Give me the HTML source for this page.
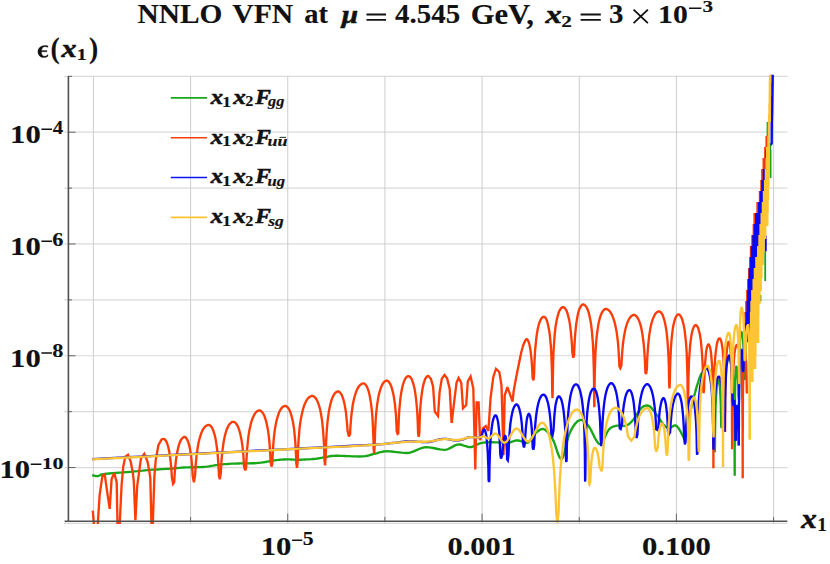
<!DOCTYPE html><html><head><meta charset="utf-8"><style>html,body{margin:0;padding:0;background:#fff}svg text{font-family:"Liberation Serif",serif;font-weight:bold;fill:#111}</style></head><body><svg width="830" height="564" viewBox="0 0 830 564" style="display:block">
<rect width="830" height="564" fill="#fff"/>
<path d="M64.3 76.30H787.3M64.3 132.19H787.3M64.3 188.08H787.3M64.3 243.97H787.3M64.3 299.86H787.3M64.3 355.75H787.3M64.3 411.64H787.3M64.3 467.53H787.3M64.3 523.42H787.3" stroke="#d9d9d9" stroke-width="1.2" fill="none"/>
<path d="M93.40 76.3V523.8M190.57 76.3V523.8M287.74 76.3V523.8M384.91 76.3V523.8M482.08 76.3V523.8M579.25 76.3V523.8M676.42 76.3V523.8M773.59 76.3V523.8" stroke="#c8c8c8" stroke-width="0.9" fill="none"/>
<defs><clipPath id="cp"><rect x="68" y="74.8" width="722" height="449.2"/></clipPath></defs>
<g clip-path="url(#cp)" fill="none" stroke-width="2.35" stroke-linejoin="miter" stroke-miterlimit="3" stroke-linecap="butt">
<path d="M92.2 475.2L92.9 475.3L93.6 475.5L94.3 475.7L95.0 475.8L95.6 476.0L96.3 476.1L97.0 476.1L97.7 476.1L98.3 476.0L98.8 475.8L99.4 475.5L100.0 475.2L100.5 474.9L101.1 474.6L101.6 474.4L102.2 474.3L105.7 473.9L109.2 473.5L112.6 473.2L116.1 472.9L119.6 472.6L123.0 472.4L126.5 472.1L130.0 471.8L132.5 471.6L135.0 471.3L137.5 471.1L140.0 470.8L142.5 470.6L145.0 470.3L147.5 470.1L150.0 469.9L152.3 469.7L154.5 469.6L156.8 469.5L159.1 469.3L161.3 469.2L163.6 469.1L165.8 468.9L168.1 468.8L170.4 468.6L172.6 468.5L174.9 468.3L177.1 468.1L179.4 467.9L181.7 467.7L183.9 467.5L186.2 467.4L188.5 467.3L190.7 467.2L193.0 467.2L195.2 467.2L197.5 467.1L199.8 467.1L202.0 467.0L204.3 466.8L206.6 466.6L208.8 466.3L211.1 465.9L213.4 465.6L215.6 465.2L217.9 464.9L220.1 464.5L222.4 464.3L224.7 464.1L226.9 464.0L229.2 463.8L231.4 463.7L233.7 463.6L236.0 463.6L238.2 463.5L240.5 463.4L242.8 463.3L245.0 463.3L247.3 463.3L249.6 463.3L251.8 463.2L254.1 463.2L256.3 463.1L258.6 462.9L260.9 462.7L263.1 462.3L265.4 462.0L267.6 461.6L269.9 461.2L272.1 460.8L274.4 460.4L276.6 460.1L278.0 459.9L279.3 459.8L280.7 459.7L282.1 459.6L283.4 459.5L284.8 459.5L286.1 459.4L287.5 459.4L288.8 459.4L290.1 459.4L291.4 459.5L292.8 459.6L294.1 459.6L295.4 459.7L296.7 459.7L298.0 459.7L300.2 459.7L302.4 459.6L304.6 459.5L306.8 459.4L308.9 459.3L311.1 459.2L313.3 459.0L315.5 458.8L317.8 458.5L320.0 458.1L322.3 457.7L324.6 457.2L326.8 456.8L329.1 456.4L331.3 456.0L333.6 455.8L335.9 455.7L338.1 455.7L340.4 455.8L342.6 455.9L344.9 456.0L347.2 456.1L349.4 456.2L351.7 456.3L353.4 456.3L355.0 456.4L356.7 456.4L358.4 456.5L360.0 456.5L361.7 456.4L363.3 456.3L365.0 456.2L366.1 456.0L367.2 455.8L368.4 455.5L369.5 455.2L370.6 454.8L371.8 454.5L372.9 454.2L374.0 453.9L375.6 453.5L377.2 453.1L378.8 452.6L380.4 452.2L381.9 451.8L383.5 451.5L385.1 451.3L386.7 451.2L389.2 451.3L391.7 451.5L394.2 451.8L396.6 452.1L399.1 452.4L401.6 452.7L404.1 452.9L406.6 453.0L409.1 452.8L411.6 452.1L414.1 451.2L416.6 450.1L419.0 449.0L421.5 448.1L424.0 447.4L426.5 447.2L428.8 447.3L431.0 447.6L433.3 448.0L435.6 448.5L437.8 449.0L440.1 449.4L442.3 449.7L444.6 449.8L446.4 449.6L448.2 449.0L450.0 448.1L451.9 447.1L453.7 446.1L455.5 445.2L457.3 444.6L459.1 444.4L460.5 444.5L461.8 444.8L463.1 445.3L464.5 445.8L465.9 446.2L467.2 446.7L468.5 447.0L469.9 447.1L471.3 447.0L472.6 446.6L474.0 446.0L475.4 445.4L476.7 444.7L478.1 444.1L479.4 443.5L480.8 443.1L482.2 442.8L483.5 442.6L484.9 442.5L486.2 442.4L487.6 442.3L489.0 442.2L490.3 442.2L491.7 442.2L493.6 442.2L495.6 442.3L497.5 442.4L499.4 442.5L501.4 442.7L503.3 442.8L505.3 442.9L507.2 442.9L508.4 442.8L509.7 442.5L510.9 442.1L512.2 441.6L513.5 441.2L514.7 440.8L516.0 440.5L517.2 440.4L518.4 440.5L519.7 440.8L520.9 441.2L522.2 441.6L523.4 442.1L524.6 442.5L525.9 442.8L527.1 442.9L528.0 442.6L528.9 441.9L529.8 440.8L530.8 439.5L531.7 438.1L532.6 436.7L533.5 435.4L534.4 434.4L535.4 433.5L536.4 432.5L537.4 431.6L538.5 430.8L539.5 430.1L540.5 429.5L541.5 429.1L542.5 429.0L543.8 429.2L545.0 429.8L546.2 430.7L547.5 432.0L548.8 433.4L550.0 435.1L551.2 437.0L552.5 438.9L553.6 441.1L554.8 444.1L555.9 447.4L557.0 450.8L558.1 454.0L559.2 456.7L560.4 458.5L561.5 459.2L562.4 458.4L563.3 456.3L564.2 453.3L565.1 449.5L566.1 445.6L567.0 441.6L567.9 438.1L568.8 435.3L569.7 433.1L570.6 431.2L571.5 429.4L572.4 427.8L573.3 426.4L574.2 425.0L575.1 423.8L576.0 422.7L576.7 422.0L577.4 421.4L578.0 420.9L578.7 420.5L579.4 420.3L580.0 420.1L580.7 420.0L581.4 420.0L582.3 420.1L583.2 420.5L584.1 421.2L585.0 422.0L586.0 422.9L586.9 424.0L587.8 425.1L588.7 426.3L590.2 428.5L591.6 431.2L593.1 434.2L594.5 437.2L596.0 440.0L597.5 442.3L598.9 443.8L600.4 444.4L601.4 443.9L602.5 442.6L603.5 440.7L604.5 438.4L605.5 435.9L606.5 433.6L607.6 431.5L608.6 429.9L609.5 428.9L610.4 428.1L611.3 427.5L612.2 427.0L613.1 426.7L614.0 426.4L614.9 426.1L615.8 425.9L617.2 425.7L618.5 425.6L619.9 425.7L621.2 425.8L622.6 425.9L624.0 425.9L625.3 425.8L626.7 425.4L627.6 425.0L628.5 424.4L629.4 423.7L630.3 422.9L631.2 422.0L632.1 421.1L633.0 420.1L633.9 419.0L634.8 417.8L635.7 416.4L636.6 415.0L637.5 413.4L638.4 411.9L639.3 410.5L640.2 409.2L641.1 408.2L641.9 407.5L642.7 406.9L643.5 406.4L644.2 406.1L645.0 405.8L645.8 405.6L646.6 405.5L647.4 405.5L648.6 405.8L649.9 406.5L651.1 407.6L652.3 409.0L653.5 410.6L654.8 412.2L656.0 413.9L657.2 415.4L658.0 416.4L658.8 417.5L659.6 418.8L660.4 420.0L661.1 421.3L661.9 422.5L662.7 423.6L663.5 424.5L664.2 425.2L664.9 425.9L665.5 426.5L666.2 427.0L666.9 427.5L667.5 427.8L668.2 428.0L668.9 428.1L669.7 428.0L670.5 427.7L671.3 427.2L672.1 426.8L672.9 426.3L673.7 425.8L674.5 425.5L675.3 425.4L676.0 425.6L676.6 426.0L677.3 426.7L678.0 427.5L678.7 428.5L679.4 429.6L680.0 430.6L680.7 431.7L684.5 439.5L688.9 417.2L694.3 395.5L695.0 393.0L695.6 390.6L696.3 388.1L697.0 385.8L697.7 383.5L698.4 381.4L699.0 379.3L699.7 377.4L700.2 376.3L700.6 375.3L701.0 374.4L701.5 373.6L702.0 372.9L702.4 372.2L702.8 371.6L703.3 371.0L703.8 370.4L704.2 369.7L704.7 369.2L705.1 368.6L705.6 368.2L706.1 367.8L706.5 367.6L707.0 367.5L707.3 367.5L707.8 367.8L708.4 368.5L709.0 369.6L709.7 371.1L710.3 373.2L710.9 375.9L711.5 379.4L712.0 382.7L712.5 386.7L712.8 390.9L713.2 396.1L713.6 401.3L713.8 406.3L714.0 412.6L714.2 418.0L714.3 425.0L714.4 432.0L714.6 441.8L714.6 451.7L714.8 452.0L715.0 444.5L715.0 437.5L715.1 430.5L715.2 425.1L715.3 418.8L715.4 413.8L715.5 408.6L715.7 403.4L715.9 399.2L716.1 395.2L716.4 391.9L716.6 388.4L716.9 385.7L717.2 383.6L717.5 382.1L717.8 381.0L718.1 380.3L718.4 380.0L718.5 380.0L718.6 380.0L718.8 380.3L719.0 381.0L719.3 382.1L719.5 383.6L719.8 385.7L720.0 388.4L720.2 391.9L720.4 395.2L720.6 399.2L720.8 403.4L720.9 408.6L721.0 413.8L721.1 418.8L721.2 425.1L721.5 428.2L721.8 423.5L722.0 416.5L722.1 409.5L722.2 404.1L722.5 397.8L722.7 392.8L723.0 387.6L723.4 382.4L723.8 378.2L724.2 374.2L724.6 370.9L725.2 367.4L725.9 364.7L726.5 362.6L727.0 361.1L727.6 360.0L728.2 359.3L728.7 359.0L729.0 359.0L729.2 359.0L729.6 359.3L730.0 360.0L730.5 361.1L730.9 362.6L731.4 364.7L731.9 367.4L732.3 370.9L732.6 374.2L733.0 378.2L733.3 382.4L733.6 387.6L733.8 392.8L734.0 397.8L734.1 404.1L734.2 409.5L734.4 416.5L734.4 423.5L734.5 433.3L734.6 443.2L734.6 455.6L734.7 472.4L734.7 475.8L734.7 463.2L734.7 450.8L734.8 440.9L734.8 431.1L734.8 424.1L734.8 417.1L734.9 411.7L734.9 405.4L735.0 400.4L735.0 395.2L735.1 390.0L735.2 385.8L735.3 381.8L735.4 378.5L735.5 375.0L735.7 372.3L735.8 370.2L736.0 368.7L736.1 367.6L736.2 366.9L736.3 366.6L736.4 366.6L736.5 366.6L736.7 366.9L736.9 367.6L737.1 368.7L737.3 370.2L737.5 372.3L737.7 375.0L737.9 378.5L738.1 381.8L738.2 385.8L738.4 390.0L738.5 395.2L739.0 400.0L739.1 396.5L739.1 389.5L739.2 382.5L739.2 377.1L739.3 370.8L739.4 365.8L739.5 360.6L739.6 355.4L739.7 351.2L739.8 347.2L740.0 343.9L740.1 340.4L740.3 337.7L740.5 335.6L740.7 334.1L740.9 333.0L741.1 332.3L741.2 332.0L741.3 332.0L741.4 332.0L741.7 332.3L742.0 333.0L742.3 334.1L742.6 335.6L742.9 337.7L743.1 340.4L743.4 343.9L743.7 347.2L743.9 351.2L744.1 355.4L744.3 360.6L744.4 365.8L744.5 370.8L744.6 377.1L745.0 380.0L745.2 377.5L745.2 370.5L745.3 365.1L745.4 358.8L745.5 353.8L745.6 348.6L745.8 343.4L745.9 339.2L746.1 335.2L746.3 331.9L746.5 328.4L746.7 325.7L747.0 323.6L747.2 322.1L747.5 321.0L747.7 320.3L747.9 320.0L748.0 320.0" stroke="#19a619"/>
<path d="M765.2 251V281M760.5 295V301.5M770.6 150V178M767.5 122V143M770.2 143V150M751.9 374V380" stroke="#19a619" stroke-width="1.8" fill="none"/>
<path d="M92.8 510.6L94.4 530.0L97.4 530.0L99.6 495.4L102.4 475.8L104.7 474.2L107.2 492.1L109.7 508.9L111.6 479.1L114.3 473.1L116.7 482.4L117.6 530.0L119.4 530.0L119.7 524.1L121.6 485.0L123.2 467.0L125.3 456.6L128.0 454.7L130.7 461.5L132.9 473.4L133.8 481.3L135.4 520.3L137.2 486.0L138.9 473.4L141.0 458.2L144.3 453.9L147.5 461.5L149.7 473.4L150.3 478.0L151.6 530.0L152.6 530.0L154.4 475.8L155.7 460.4L158.4 445.2L161.6 439.4L163.5 438.8L163.9 438.8L164.5 439.1L165.2 439.8L166.0 440.9L166.8 442.4L167.5 444.5L168.3 447.2L169.1 450.7L169.6 454.0L170.2 458.0L170.7 462.2L171.2 467.4L171.6 472.6L171.9 477.6L173.1 483.7L174.2 482.1L174.6 475.8L174.9 470.8L175.4 465.6L175.9 460.4L176.5 456.2L177.2 452.2L177.9 448.9L178.8 445.4L179.7 442.7L180.6 440.6L181.5 439.1L182.4 438.0L183.4 437.3L184.0 437.0L184.5 437.0L184.9 437.0L185.4 437.3L186.2 438.0L186.9 439.1L187.7 440.6L188.4 442.7L189.2 445.4L190.0 448.9L190.5 452.2L191.1 456.2L191.6 460.4L192.0 465.6L192.4 470.8L192.7 475.8L193.9 482.3L195.1 475.4L195.4 470.0L195.8 463.7L196.3 458.7L196.8 453.5L197.6 448.3L198.3 444.1L199.2 440.1L200.1 436.8L201.2 433.3L202.4 430.6L203.6 428.5L204.8 427.0L206.0 425.9L207.1 425.2L208.0 424.9L208.6 424.9L209.0 424.9L209.7 425.2L210.6 425.9L211.5 427.0L212.4 428.5L213.3 430.6L214.2 433.3L215.1 436.8L215.8 440.1L216.4 444.1L217.0 448.3L217.6 453.5L218.0 458.7L218.3 463.7L218.7 470.0L218.9 475.4L219.8 479.2L220.9 472.3L221.1 466.9L221.5 460.6L221.9 455.6L222.5 450.4L223.2 445.2L223.8 441.0L224.6 437.0L225.4 433.7L226.5 430.2L227.6 427.5L228.6 425.4L229.7 423.9L230.8 422.8L231.9 422.1L232.7 421.8L233.2 421.8L233.7 421.8L234.4 422.1L235.4 422.8L236.3 423.9L237.3 425.4L238.3 427.5L239.2 430.2L240.2 433.7L240.9 437.0L241.7 441.0L242.3 445.2L242.9 450.4L243.4 455.6L243.7 460.6L244.1 466.9L245.3 470.5L246.1 468.0L246.4 461.0L246.7 455.6L247.1 449.3L247.6 444.3L248.1 439.1L248.8 433.9L249.5 429.7L250.4 425.7L251.2 422.4L252.3 418.9L253.5 416.2L254.6 414.1L255.7 412.6L256.9 411.5L258.0 410.8L258.8 410.5L259.4 410.5L259.9 410.5L260.6 410.8L261.6 411.5L262.5 412.6L263.5 414.1L264.5 416.2L265.4 418.9L266.4 422.4L267.1 425.7L267.9 429.7L268.5 433.9L269.1 439.1L269.6 444.3L269.9 449.3L270.3 455.6L270.5 461.0L271.5 466.6L272.3 463.5L272.6 456.5L272.9 451.1L273.3 444.8L273.7 439.8L274.2 434.6L274.9 429.4L275.6 425.2L276.4 421.2L277.3 417.9L278.4 414.4L279.4 411.7L280.5 409.6L281.6 408.1L282.7 407.0L283.8 406.3L284.7 406.0L285.2 406.0L285.7 406.0L286.4 406.3L287.3 407.0L288.3 408.1L289.2 409.6L290.2 411.7L291.1 414.4L292.0 417.9L292.8 421.2L293.5 425.2L294.1 429.4L294.6 434.6L295.1 439.8L295.5 444.8L295.8 451.1L296.1 456.5L296.3 463.5L297.0 467.9L297.7 460.5L297.9 453.5L298.2 446.5L298.5 441.1L299.0 434.8L299.4 429.8L300.0 424.6L300.8 419.4L301.6 415.2L302.5 411.2L303.4 407.9L304.6 404.4L305.8 401.7L307.0 399.6L308.2 398.1L309.5 397.0L310.7 396.3L311.6 396.0L312.2 396.0L312.7 396.0L313.5 396.3L314.5 397.0L315.6 398.1L316.6 399.6L317.6 401.7L318.6 404.4L319.7 407.9L320.5 411.2L321.2 415.2L321.9 419.4L322.5 424.6L323.0 429.8L323.4 434.8L323.8 441.1L324.1 446.5L324.3 453.5L324.5 460.5L325.1 465.3L325.7 456.0L325.9 449.0L326.1 442.0L326.4 436.6L326.8 430.3L327.2 425.3L327.7 420.1L328.4 414.9L329.0 410.7L329.8 406.7L330.6 403.4L331.6 399.9L332.6 397.2L333.7 395.1L334.7 393.6L335.8 392.5L336.8 391.8L337.6 391.5L338.1 391.5L338.5 391.5L339.2 391.8L340.0 392.5L340.9 393.6L341.8 395.1L342.6 397.2L343.5 399.9L344.4 403.4L345.0 406.7L345.7 410.7L346.2 414.9L346.7 420.1L347.2 425.3L347.5 430.3L348.9 436.4L350.1 433.9L350.3 428.5L350.8 422.2L351.2 417.2L351.8 412.0L352.5 406.8L353.2 402.6L354.1 398.6L355.0 395.3L356.1 391.8L357.3 389.1L358.5 387.0L359.6 385.5L360.8 384.4L361.9 383.7L362.8 383.4L363.4 383.4L363.8 383.4L364.5 383.7L365.3 384.4L366.2 385.5L367.0 387.0L367.9 389.1L368.8 391.8L369.6 395.3L370.2 398.6L370.9 402.6L371.4 406.8L372.0 412.0L372.4 417.2L372.7 422.2L373.0 428.5L373.2 433.9L373.5 440.9L373.6 447.9L374.1 453.4L374.7 445.2L374.9 438.2L375.1 431.2L375.4 425.8L375.7 419.5L376.1 414.5L376.6 409.3L377.2 404.1L377.9 399.9L378.6 395.9L379.4 392.6L380.4 389.1L381.4 386.4L382.4 384.3L383.4 382.8L384.4 381.7L385.4 381.0L386.2 380.7L386.7 380.7L387.1 380.7L387.8 381.0L388.7 381.7L389.5 382.8L390.4 384.3L391.3 386.4L392.1 389.1L393.0 392.6L393.7 395.9L394.3 399.9L394.9 404.1L395.4 409.3L395.9 414.5L396.2 419.5L396.5 425.8L396.7 431.2L397.6 434.0L398.2 433.6L398.5 426.6L398.7 421.2L399.0 414.9L399.3 409.9L399.8 404.7L400.3 399.5L400.8 395.3L401.5 391.3L402.1 388.0L403.0 384.5L403.9 381.8L404.7 379.7L405.6 378.2L406.5 377.1L407.3 376.4L408.0 376.1L408.4 376.1L408.8 376.1L409.4 376.4L410.3 377.1L411.1 378.2L411.9 379.7L412.7 381.8L413.5 384.5L414.4 388.0L415.0 391.3L415.6 395.3L416.1 399.5L416.6 404.7L417.1 409.9L417.4 414.9L417.7 421.2L417.9 426.6L418.1 433.6L418.7 436.8L419.3 433.3L419.5 426.3L419.7 420.9L419.9 414.6L420.2 409.6L420.6 404.4L421.1 399.2L421.6 395.0L422.2 391.0L422.7 387.7L423.5 384.2L424.3 381.5L425.0 379.4L425.8 377.9L426.6 376.8L427.3 376.1L427.9 375.8L428.3 375.8L431.0 379.1L433.1 386.7L434.8 411.6L438.0 416.0L439.6 392.1L441.8 378.6L444.5 375.0L447.2 378.6L449.7 388.9L451.6 423.0L454.3 400.8L456.5 382.9L458.6 378.0L461.3 382.9L463.0 408.4L466.2 405.1L467.8 381.3L470.6 376.4L473.3 388.3L475.3 469.5L476.6 402.4L478.6 402.4L480.1 440.3L483.1 428.2L485.8 426.0L488.4 431.0L490.6 397.5L493.3 376.9L496.0 368.8L499.3 372.0L501.5 385.6L503.5 455.0L504.7 395.4L507.4 387.2L512.6 401.6L513.6 391.3L516.3 376.8L516.5 375.6L516.8 374.5L517.0 373.3L517.2 372.2L517.4 371.1L517.6 370.0L517.9 368.9L518.1 367.8L518.6 365.6L519.0 363.3L519.5 361.1L519.9 358.8L520.4 356.6L520.8 354.5L521.2 352.5L521.7 350.6L522.0 349.3L522.4 348.1L522.7 347.0L523.0 346.0L523.4 345.0L523.7 344.1L524.1 343.3L524.4 342.5L524.7 341.9L525.0 341.3L525.2 340.7L525.5 340.2L525.8 339.8L526.0 339.5L526.3 339.3L526.6 339.2L526.9 339.2L527.3 339.5L527.8 340.2L528.4 341.3L528.9 342.8L529.5 344.9L530.0 347.6L530.6 351.1L531.0 354.4L531.4 358.4L531.8 362.6L532.1 367.8L532.4 373.0L532.6 378.0L533.5 380.3L534.1 374.3L534.3 367.3L534.5 361.9L534.8 355.6L535.1 350.6L535.6 345.4L536.1 340.2L536.6 336.0L537.2 332.0L537.8 328.7L538.6 325.2L539.5 322.5L540.3 320.4L541.1 318.9L541.9 317.8L542.8 317.1L543.4 316.8L543.8 316.8L544.1 316.8L544.7 317.1L545.4 317.8L546.1 318.9L546.8 320.4L547.5 322.5L548.1 325.2L548.8 328.7L549.4 332.0L549.9 336.0L550.3 340.2L550.8 345.4L551.1 350.6L551.4 355.6L551.6 361.9L551.8 367.3L552.0 374.3L552.1 381.3L552.2 391.1L552.5 398.2L552.7 391.4L552.8 381.5L553.0 371.7L553.1 364.7L553.3 357.7L553.5 352.3L553.9 346.0L554.2 341.0L554.6 335.8L555.1 330.6L555.6 326.4L556.3 322.4L556.9 319.1L557.8 315.6L558.6 312.9L559.4 310.8L560.3 309.3L561.1 308.2L562.0 307.5L562.6 307.2L563.0 307.2L563.4 307.2L564.0 307.5L564.9 308.2L565.7 309.3L566.5 310.8L567.3 312.9L568.1 315.6L569.0 319.1L569.6 322.4L570.2 326.4L570.7 330.6L571.2 335.8L571.7 341.0L572.0 346.0L572.3 352.3L573.3 357.8L574.1 355.0L574.3 349.6L574.6 343.3L574.9 338.3L575.3 333.1L575.8 327.9L576.3 323.7L576.9 319.7L577.5 316.4L578.2 312.9L579.0 310.2L579.8 308.1L580.6 306.6L581.4 305.5L582.2 304.8L582.8 304.5L583.2 304.5L583.6 304.5L584.3 304.8L585.2 305.5L586.1 306.6L587.0 308.1L587.9 310.2L588.8 312.9L589.6 316.4L590.3 319.7L591.0 323.7L591.5 327.9L592.1 333.1L592.5 338.3L592.9 343.3L593.2 349.6L593.4 355.0L593.6 362.0L593.8 369.0L594.0 378.8L594.1 388.7L594.2 401.1L594.3 407.3L594.4 405.6L594.5 393.2L594.6 383.3L594.8 373.5L595.0 366.5L595.2 359.5L595.4 354.1L595.8 347.8L596.1 342.8L596.6 337.6L597.2 332.4L597.8 328.2L598.4 324.2L599.1 320.9L600.0 317.4L601.0 314.7L601.9 312.6L602.8 311.1L603.7 310.0L604.6 309.3L605.3 309.0L605.8 309.0L606.4 309.0L607.2 309.3L608.4 310.0L609.6 311.1L610.7 312.6L611.9 314.7L613.0 317.4L614.2 320.9L615.1 324.2L615.9 328.2L616.7 332.4L617.4 337.6L618.0 342.8L618.4 347.8L618.8 354.1L619.1 359.5L619.4 366.5L620.3 368.2L621.4 365.5L621.7 360.1L622.1 353.8L622.5 348.8L623.0 343.6L623.7 338.4L624.4 334.2L625.2 330.2L626.0 326.9L627.1 323.4L628.2 320.7L629.3 318.6L630.4 317.1L631.5 316.0L632.5 315.3L633.4 315.0L633.9 315.0L634.4 315.0L635.1 315.3L636.1 316.0L637.1 317.1L638.0 318.6L639.0 320.7L640.0 323.4L641.0 326.9L641.7 330.2L642.4 334.2L643.0 338.4L643.7 343.6L644.1 348.8L644.5 353.8L644.9 360.1L645.1 365.5L645.4 372.5L646.1 374.0L646.9 368.9L647.1 361.9L647.4 356.5L647.8 350.2L648.2 345.2L648.7 340.0L649.3 334.8L650.0 330.6L650.7 326.6L651.5 323.3L652.5 319.8L653.6 317.1L654.6 315.0L655.6 313.5L656.7 312.4L657.7 311.7L658.5 311.4L659.0 311.4L659.4 311.4L660.0 311.7L660.9 312.4L661.7 313.5L662.6 315.0L663.4 317.1L664.2 319.8L665.1 323.3L665.7 326.6L666.4 330.6L666.9 334.8L667.4 340.0L667.8 345.2L668.1 350.2L668.5 356.5L668.7 361.9L668.9 368.9L669.0 375.9L669.2 385.7L669.5 388.4L669.9 378.9L670.0 371.9L670.2 364.9L670.4 359.5L670.7 353.2L670.9 348.2L671.3 343.0L671.7 337.8L672.2 333.6L672.7 329.6L673.2 326.3L674.0 322.8L674.7 320.1L675.4 318.0L676.1 316.5L676.8 315.4L677.5 314.7L678.0 314.4L678.4 314.4L678.8 314.4L679.4 314.7L680.1 315.4L680.9 316.5L681.6 318.0L682.4 320.1L683.1 322.8L683.9 326.3L684.5 329.6L685.0 333.6L685.5 337.8L686.0 343.0L686.4 348.2L686.7 353.2L686.9 359.5L687.1 364.9L687.3 371.9L687.5 378.9L687.6 388.7L687.7 398.6L687.8 411.0L687.9 418.0L688.1 409.4L688.1 399.5L688.3 389.7L688.4 382.7L688.5 375.7L688.7 370.3L688.9 364.0L689.1 359.0L689.5 353.8L689.9 348.6L690.2 344.4L690.7 340.4L691.2 337.1L691.8 333.6L692.4 330.9L693.0 328.8L693.7 327.3L694.3 326.2L694.9 325.5L695.4 325.2L695.7 325.2L696.0 325.2L696.5 325.5L697.1 326.2L697.8 327.3L698.4 328.8L699.0 330.9L699.7 333.6L700.3 337.1L700.8 340.4L701.2 344.4L701.6 348.6L702.0 353.8L702.3 359.0L702.6 364.0L702.8 370.3L703.0 375.7L703.1 382.7L703.2 389.7L703.6 393.2L704.1 389.5L704.2 383.2L704.4 378.2L704.6 373.0L704.8 367.8L705.1 363.6L705.4 359.6L705.7 356.3L706.0 352.8L706.4 350.1L706.8 348.0L707.2 346.5L707.6 345.4L708.0 344.7L708.3 344.4L708.5 344.4L708.7 344.4L709.0 344.7L709.4 345.4L709.8 346.5L710.2 348.0L710.6 350.1L711.0 352.8L711.3 356.3L711.6 359.6L711.9 363.6L712.2 367.8L712.4 373.0L712.6 378.2L712.8 383.2L712.9 389.5L713.0 394.9L713.1 401.9L713.2 408.9L713.3 418.7L713.3 428.6L713.3 441.0L713.4 457.8L713.4 468.3L713.4 451.7L713.5 434.9L713.5 422.5L713.6 412.6L713.7 402.8L713.8 395.8L713.9 388.8L714.0 383.4L714.2 377.1L714.4 372.1L714.6 366.9L714.9 361.7L715.2 357.5L715.6 353.5L716.0 350.2L716.5 346.7L716.9 344.0L717.4 341.9L717.9 340.4L718.4 339.3L718.9 338.6L719.3 338.3L719.5 338.3L719.7 338.3L720.0 338.6L720.5 339.3L720.9 340.4L721.4 341.9L721.8 344.0L722.2 346.7L722.7 350.2L723.0 353.5L723.4 357.5L723.6 361.7L723.9 366.9L724.1 372.1L724.3 377.1L724.5 383.4L724.6 388.8L724.7 395.8L724.8 402.8L724.8 412.6L724.9 422.5L725.0 432.0L725.1 426.0L725.1 416.1L725.2 406.3L725.2 399.3L725.3 392.3L725.4 386.9L725.5 380.6L725.6 375.6L725.8 370.4L726.0 365.2L726.1 361.0L726.4 357.0L726.6 353.7L726.9 350.2L727.2 347.5L727.5 345.4L727.8 343.9L728.1 342.8L728.4 342.1L728.6 341.8L728.8 341.8L728.9 341.8L729.1 342.1L729.4 342.8L729.7 343.9L729.9 345.4L730.2 347.5L730.5 350.2L730.7 353.7L730.9 357.0L731.1 361.0L731.3 365.2L731.4 370.4L731.6 375.6L731.7 380.6L731.8 386.9L731.8 392.3L731.9 399.3L732.0 406.3L732.0 416.1L732.0 426.0L732.1 438.4L732.1 449.3L732.2 441.6L732.2 429.2L732.2 419.3L732.3 409.5L732.4 402.5L732.5 395.5L732.6 390.1L732.7 383.8L732.9 378.8L733.1 373.6L733.3 368.4L733.6 364.2L733.9 360.2L734.2 356.9L734.5 353.4L734.9 350.7L735.3 348.6L735.7 347.1L736.1 346.0L736.5 345.3L736.8 345.0L737.0 345.0L737.2 345.0L737.6 345.3L738.0 346.0L738.5 347.1L738.9 348.6L739.4 350.7L739.9 353.4L740.3 356.9L740.6 360.2L741.0 364.2L741.3 368.4L741.6 373.6L741.8 378.8L742.0 383.8L742.1 390.1L742.2 395.5L742.4 402.5L742.4 409.5L742.5 419.3L742.6 429.2L742.6 441.6L742.7 458.4L742.7 478.2L742.7 465.4L742.7 448.6L742.7 436.2L742.8 426.3L742.8 416.5L742.8 409.5L742.9 402.5L742.9 397.1L743.0 390.8L743.1 385.8L743.2 380.6L743.3 375.4L743.4 371.2L743.5 367.2L743.7 363.9L743.9 360.4L744.0 357.7L744.2 355.6L744.4 354.1L744.6 353.0L744.8 352.3L744.9 352.0L745.0 352.0L745.1 352.0L745.2 352.3L745.4 353.0L745.5 354.1L745.7 355.6L745.8 357.7L746.0 360.4L746.2 363.9L746.3 367.2L746.4 371.2L746.5 375.4L746.6 380.6L746.7 385.8L746.7 390.8L747.0 393.5" stroke="#fb3d08"/>
<path d="M743.6 345.0V334.0H743.7V323.0H744.3V312.0H745.1V301.0H746.1V290.0H747.1V279.0H748.0V268.0H749.1V257.0H749.8V246.0H751.2V235.0H752.6V224.0H753.4V213.0H756.3V202.0H758.8V191.0H760.2V180.0H761.1V169.0H762.5V158.0H764.1V147.0H765.4V136.0H766.8V135.0H767.0L768.5 135.0L768.8 150.0L768.8 164.0L768.2 178.0L767.8 193.0L767.4 207.0L767.1 221.0L765.3 225.0L763.5 239.0L762.8 253.0L761.1 268.0L760.6 282.0L759.3 293.0L758.2 305.0L758.1 331.0L755.6 333.0Z" fill="#fb3d08" stroke="none"/>
<path d="M92.2 459.1L110.1 458.1L127.9 457.2L145.8 456.3L163.6 455.4L181.4 454.5L199.3 453.6L217.2 452.7L235.0 451.8L251.2 450.9L267.5 450.1L283.8 449.3L300.0 448.5L316.2 447.7L332.5 446.9L348.8 446.0L365.0 445.2L366.9 445.1L368.8 445.0L370.6 444.9L372.5 444.8L374.4 444.7L376.2 444.6L378.1 444.4L380.0 444.3L381.8 444.1L383.6 444.0L385.4 443.8L387.2 443.6L389.1 443.4L390.9 443.2L392.7 443.0L394.5 442.8L396.3 442.6L398.1 442.4L399.9 442.1L401.7 441.9L403.5 441.7L405.3 441.5L407.1 441.4L408.9 441.3L410.7 441.3L412.5 441.4L414.3 441.5L416.1 441.6L418.0 441.8L419.8 441.9L421.6 442.0L423.4 442.1L424.3 442.1L425.2 442.1L426.1 442.1L427.0 442.1L427.9 442.1L428.8 442.0L429.7 441.9L430.6 441.8L431.5 441.6L432.4 441.4L433.3 441.1L434.2 440.8L435.1 440.5L436.0 440.3L436.9 440.0L437.8 439.8L438.7 439.6L439.6 439.4L440.5 439.2L441.5 439.1L442.4 438.9L443.3 438.9L444.2 438.8L445.1 438.8L446.4 438.9L447.6 439.1L448.9 439.3L450.1 439.6L451.4 439.8L452.7 440.1L453.9 440.3L455.2 440.4L455.9 440.4L456.6 440.4L457.4 440.4L458.1 440.4L458.8 440.3L459.6 440.2L460.3 440.1L461.0 439.9L462.1 439.6L463.1 439.3L464.2 438.9L465.3 438.5L466.4 438.1L467.5 437.7L468.5 437.4L469.6 437.2L470.7 437.1L471.8 437.1L472.9 437.2L474.0 437.3L475.0 437.4L476.1 437.5L477.2 437.6L478.3 437.6L478.6 437.6L479.0 437.6L479.3 437.7L479.6 437.7L480.0 437.6L480.3 437.5L480.7 437.2L481.0 436.8L481.4 436.1L481.8 435.1L482.2 433.9L482.6 432.6L482.9 431.4L483.3 430.4L483.7 429.8L484.1 429.5L484.3 429.5L484.6 429.8L485.0 430.5L485.4 431.6L485.8 433.1L486.2 435.2L486.6 437.9L486.9 441.4L487.2 444.7L487.5 448.7L487.8 452.9L488.0 458.1L488.2 463.3L488.4 468.3L488.5 474.6L488.6 480.0L489.0 482.1L489.3 479.9L489.4 472.9L489.5 465.9L489.7 460.5L489.9 454.2L490.1 449.2L490.3 444.0L490.6 438.8L491.0 434.6L491.4 430.6L491.8 427.3L492.3 423.8L492.8 421.1L493.4 419.0L493.9 417.5L494.4 416.4L494.9 415.7L495.3 415.4L495.6 415.4L495.8 415.4L496.1 415.7L496.6 416.4L497.0 417.5L497.4 419.0L497.9 421.1L498.3 423.8L498.7 427.3L499.1 430.6L499.4 434.6L499.6 438.8L499.9 444.0L500.1 449.2L500.3 454.2L501.0 458.5L502.3 455.1L502.5 451.1L502.8 447.8L503.1 444.3L503.4 441.6L503.8 439.5L504.1 438.0L504.4 436.9L504.8 436.2L505.0 435.9L505.2 435.9L505.3 435.9L505.5 436.2L505.7 436.9L505.9 438.0L506.1 439.5L506.3 441.6L506.5 444.3L506.7 447.8L506.9 451.1L507.0 455.1L507.1 459.3L507.8 460.3L508.5 455.0L508.7 449.6L508.9 443.3L509.2 438.3L509.6 433.1L510.0 427.9L510.4 423.7L511.0 419.7L511.5 416.4L512.2 412.9L512.9 410.2L513.6 408.1L514.3 406.6L515.0 405.5L515.7 404.8L516.2 404.5L516.6 404.5L516.9 404.5L517.3 404.8L517.9 405.5L518.5 406.6L519.1 408.1L519.7 410.2L520.3 412.9L520.9 416.4L521.3 419.7L521.8 423.7L522.1 427.9L522.5 433.1L522.8 438.3L523.0 443.3L524.0 447.4L525.0 442.6L525.2 437.4L525.5 433.2L525.8 429.2L526.1 425.9L526.5 422.4L526.8 419.7L527.2 417.6L527.6 416.1L528.0 415.0L528.4 414.3L528.7 414.0L528.9 414.0L529.1 414.0L529.4 414.3L529.7 415.0L530.1 416.1L530.4 417.6L530.8 419.7L531.1 422.4L531.5 425.9L531.8 429.2L532.0 433.2L532.3 437.4L532.5 442.6L532.7 447.8L533.4 449.7L534.2 445.1L534.4 439.7L534.7 433.4L535.0 428.4L535.4 423.2L535.9 418.0L536.4 413.8L537.0 409.8L537.6 406.5L538.4 403.0L539.2 400.3L540.0 398.2L540.8 396.7L541.6 395.6L542.4 394.9L543.0 394.6L543.4 394.6L543.8 394.6L544.3 394.9L545.0 395.6L545.8 396.7L546.5 398.2L547.2 400.3L548.0 403.0L548.7 406.5L549.2 409.8L549.8 413.8L550.2 418.0L550.7 423.2L551.0 428.4L551.3 433.4L552.5 435.3L553.5 430.2L553.8 425.0L554.1 419.8L554.4 415.6L554.8 411.6L555.1 408.3L555.6 404.8L556.2 402.1L556.7 400.0L557.2 398.5L557.7 397.4L558.2 396.7L558.5 396.4L558.8 396.4L559.1 396.4L559.6 396.7L560.2 397.4L560.8 398.5L561.4 400.0L562.0 402.1L562.6 404.8L563.2 408.3L563.7 411.6L564.1 415.6L564.5 419.8L564.9 425.0L565.2 430.2L565.4 435.2L565.6 441.5L565.8 446.9L565.9 453.9L566.1 460.9L566.4 461.9L566.7 458.6L566.8 448.8L567.0 441.8L567.2 434.8L567.4 429.4L567.6 423.1L567.9 418.1L568.3 412.9L568.8 407.7L569.3 403.5L569.9 399.5L570.4 396.2L571.2 392.7L572.0 390.0L572.7 387.9L573.5 386.4L574.3 385.3L575.0 384.6L575.6 384.3L576.0 384.3L576.4 384.3L576.9 384.6L577.7 385.3L578.4 386.4L579.1 387.9L579.9 390.0L580.6 392.7L581.3 396.2L581.9 399.5L582.4 403.5L582.9 407.7L583.4 412.9L583.7 418.1L584.0 423.1L584.3 429.4L584.5 434.8L584.6 441.8L584.8 448.8L584.9 458.6L585.0 468.5L585.1 480.9L585.2 481.5L585.4 472.8L585.5 462.9L585.6 453.1L585.7 446.1L585.9 439.1L586.1 433.7L586.3 427.4L586.6 422.4L586.9 417.2L587.3 412.0L587.8 407.8L588.3 403.8L588.8 400.5L589.5 397.0L590.1 394.3L590.8 392.2L591.5 390.7L592.2 389.6L592.9 388.9L593.4 388.6L593.7 388.6L594.0 388.6L594.5 388.9L595.1 389.6L595.7 390.7L596.3 392.2L596.9 394.3L597.5 397.0L598.1 400.5L598.6 403.8L599.0 407.8L599.4 412.0L599.8 417.2L600.1 422.4L600.3 427.4L600.5 433.7L600.7 439.1L601.3 446.2L601.9 440.7L602.1 433.7L602.3 428.3L602.6 422.0L602.9 417.0L603.3 411.8L603.8 406.6L604.3 402.4L604.9 398.4L605.5 395.1L606.3 391.6L607.1 388.9L607.9 386.8L608.7 385.3L609.5 384.2L610.3 383.5L610.9 383.2L611.3 383.2L611.7 383.2L612.2 383.5L613.0 384.2L613.7 385.3L614.5 386.8L615.2 388.9L616.0 391.6L616.8 395.1L617.3 398.4L617.9 402.4L618.4 406.6L618.8 411.8L619.2 417.0L619.5 422.0L619.8 428.3L620.7 429.0L622.1 423.9L622.4 418.7L622.9 413.5L623.3 409.3L623.8 405.3L624.4 402.0L625.0 398.5L625.7 395.8L626.4 393.7L627.1 392.2L627.8 391.1L628.5 390.4L629.1 390.1L629.4 390.1L629.7 390.1L630.1 390.4L630.7 391.1L631.3 392.2L631.8 393.7L632.4 395.8L633.0 398.5L633.6 402.0L634.0 405.3L634.4 409.3L634.8 413.5L635.2 418.7L635.4 423.9L635.7 428.9L635.9 435.2L636.6 438.0L637.4 434.7L637.7 429.3L638.0 423.0L638.3 418.0L638.7 412.8L639.2 407.6L639.8 403.4L640.4 399.4L641.1 396.1L641.9 392.6L642.7 389.9L643.6 387.8L644.4 386.3L645.3 385.2L646.1 384.5L646.8 384.2L647.2 384.2L647.6 384.2L648.2 384.5L649.0 385.2L649.8 386.3L650.6 387.8L651.4 389.9L652.2 392.6L653.0 396.1L653.6 399.4L654.2 403.4L654.7 407.6L655.2 412.8L655.6 418.0L655.9 423.0L656.2 429.3L657.2 429.9L658.5 426.8L658.8 421.6L659.1 417.4L659.5 413.4L659.8 410.1L660.4 406.6L660.9 403.9L661.4 401.8L661.9 400.3L662.4 399.2L662.9 398.5L663.2 398.2L663.5 398.2L663.7 398.2L664.0 398.5L664.5 399.2L664.9 400.3L665.3 401.8L665.8 403.9L666.2 406.6L666.6 410.1L667.0 413.4L667.3 417.4L667.5 421.6L667.8 426.8L668.0 432.0L668.9 434.4L670.1 432.5L670.4 427.5L670.7 422.3L671.2 417.1L671.6 412.9L672.2 408.9L672.7 405.6L673.5 402.1L674.2 399.4L674.9 397.3L675.6 395.8L676.4 394.7L677.1 394.0L677.6 393.7L678.0 393.7L678.3 393.7L678.7 394.0L679.2 394.7L679.8 395.8L680.3 397.3L680.9 399.4L681.5 402.1L682.0 405.6L682.4 408.9L682.8 412.9L683.2 417.1L683.5 422.3L683.8 427.5L684.0 432.5L684.2 438.8L684.9 444.4L685.6 441.5L685.8 435.2L686.0 430.2L686.2 425.0L686.6 419.8L686.9 415.6L687.3 411.6L687.7 408.3L688.2 404.8L688.8 402.1L689.3 400.0L689.9 398.5L690.4 397.4L690.9 396.7L691.3 396.4L691.6 396.4L691.8 396.4L692.2 396.7L692.6 397.4L693.1 398.5L693.5 400.0L694.0 402.1L694.5 404.8L694.9 408.3L695.2 411.6L695.6 415.6L695.9 419.8L696.2 425.0L696.4 430.2L696.6 435.2L696.7 441.5L696.8 446.9L697.0 453.9L697.3 454.5L697.5 452.7L697.6 442.8L697.7 433.0L697.9 426.0L698.0 419.0L698.2 413.6L698.5 407.3L698.8 402.3L699.1 397.1L699.6 391.9L700.1 387.7L700.6 383.7L701.2 380.4L701.9 376.9L702.6 374.2L703.4 372.1L704.1 370.6L704.8 369.5L705.6 368.8L706.1 368.5L706.5 368.5L706.8 368.5L707.2 368.8L707.8 369.5L708.3 370.6L708.9 372.1L709.4 374.2L710.0 376.9L710.6 380.4L711.0 383.7L711.4 387.7L711.8 391.9L712.1 397.1L712.4 402.3L712.6 407.3L712.8 413.6L712.9 419.0L713.1 426.0L713.2 433.0L713.3 442.8L713.5 449.8L713.7 441.1L713.8 434.1L713.9 427.1L714.0 421.7L714.2 415.4L714.3 410.4L714.5 405.2L714.8 400.0L715.1 395.8L715.4 391.8L715.7 388.5L716.1 385.0L716.5 382.3L716.9 380.2L717.3 378.7L717.8 377.6L718.2 376.9L718.5 376.6L718.7 376.6L718.9 376.6L719.3 376.9L719.8 377.6L720.3 378.7L720.7 380.2L721.2 382.3L721.7 385.0L722.2 388.5L722.5 391.8L722.9 395.8L723.2 400.0L723.5 405.2L723.7 410.4L723.9 415.4L724.1 421.7L724.2 427.1L724.7 431.7L724.8 430.0L724.9 420.2L725.0 413.2L725.1 406.2L725.1 400.8L725.3 394.5L725.4 389.5L725.6 384.3L725.8 379.1L726.0 374.9L726.3 370.9L726.5 367.6L726.9 364.1L727.3 361.4L727.6 359.3L728.0 357.8L728.3 356.7L728.7 356.0L728.9 355.7L729.1 355.7L729.3 355.7L729.5 356.0L729.8 356.7L730.1 357.8L730.4 359.3L730.7 361.4L731.0 364.1L731.4 367.6L731.6 370.9L731.8 374.9L732.0 379.1L732.2 384.3L732.4 389.5L732.5 394.5L732.6 400.8L733.0 404.0L734.0 403.1L734.1 402.0L734.2 401.3L734.2 401.0L734.3 401.0L734.4 401.0L734.4 401.3L734.5 402.0L734.6 403.1L734.7 404.6L734.8 406.7L735.0 409.4L735.1 412.9L735.1 416.2L735.2 420.2L735.3 424.4L735.3 429.6L735.4 434.8L735.4 439.8L735.6 440.6L735.9 439.8L735.9 434.6L736.0 429.4L736.1 425.2L736.2 421.2L736.3 417.9L736.4 414.4L736.5 411.7L736.7 409.6L736.8 408.1L736.9 407.0L737.0 406.3L737.1 406.0L737.2 406.0L737.3 406.0L737.4 406.3L737.5 407.0L737.6 408.1L737.7 409.6L737.9 411.7L738.0 414.4L738.1 417.9L738.2 421.2L738.3 425.2L738.4 429.4L738.5 434.6L738.5 439.8L738.6 444.8L738.8 445.4L738.8 434.2L738.9 424.3L738.9 414.5L738.9 407.5L739.0 400.5L739.0 395.1L739.1 388.8L739.2 383.8L739.3 378.6L739.4 373.4L739.5 369.2L739.7 365.2L739.8 361.9L740.0 358.4L740.2 355.7L740.4 353.6L740.6 352.1L740.8 351.0L741.0 350.3L741.1 350.0L741.2 350.0L741.3 350.0L741.4 350.3L741.6 351.0L741.7 352.1L741.9 353.6L742.0 355.7L742.2 358.4L742.4 361.9L742.5 365.2L742.6 369.2L743.2 372.0L743.5 367.8L743.6 362.6L743.7 357.4L743.7 353.2L743.8 349.2L744.0 345.9L744.1 342.4L744.2 339.7L744.4 337.6L744.5 336.1L744.7 335.0L744.8 334.3L744.9 334.0L745.0 334.0" stroke="#0808f5"/>
<path d="M744.9 345.0V334.0H744.9V323.0H745.5V312.0H746.4V301.0H747.2V290.0H747.8V279.0H748.7V268.0H749.8V257.0H750.8V246.0H752.2V235.0H753.7V224.0H755.1V213.0H757.9V202.0H759.7V191.0H761.2V180.0H762.7V169.0H764.9V158.0H765.5V150.0H766.0L769.0 150.0L769.0 164.0L768.4 178.0L768.0 193.0L767.6 207.0L767.3 221.0L765.5 225.0L763.7 239.0L763.0 253.0L761.3 268.0L760.8 282.0L759.5 293.0L758.4 305.0L758.3 331.0L755.8 333.0Z" fill="#0808f5" stroke="none"/>
<path d="M770.5 145.0L770.5 70.0L774.0 70.0L773.3 112.6L773.0 122.5L772.9 143.8L771.5 146.0Z" fill="#0808f5" stroke="none"/>
<path d="M765.7 235.6V251.2" stroke="#0808f5" stroke-width="2.1" fill="none"/>
<path d="M92.2 459.3L110.1 458.4L127.9 457.5L145.8 456.6L163.6 455.6L181.4 454.7L199.3 453.8L217.2 452.9L235.0 452.0L251.2 451.2L267.5 450.4L283.8 449.5L300.0 448.7L316.2 447.9L332.5 447.1L348.8 446.3L365.0 445.4L366.9 445.3L368.8 445.2L370.6 445.1L372.5 444.9L374.4 444.8L376.2 444.6L378.1 444.5L380.0 444.3L381.8 444.1L383.6 443.9L385.4 443.8L387.2 443.6L389.1 443.4L390.9 443.2L392.7 443.0L394.5 442.8L396.3 442.6L398.1 442.5L399.9 442.3L401.7 442.2L403.5 442.0L405.3 441.9L407.1 441.8L408.9 441.7L410.7 441.6L412.5 441.6L414.3 441.6L416.1 441.7L418.0 441.7L419.8 441.7L421.6 441.7L423.4 441.7L424.3 441.7L425.2 441.7L426.1 441.7L427.0 441.6L427.9 441.6L428.8 441.6L429.7 441.5L430.6 441.4L431.5 441.3L432.4 441.1L433.3 440.9L434.2 440.7L435.1 440.5L436.0 440.3L436.9 440.2L437.8 440.0L438.7 439.9L439.6 439.7L440.5 439.5L441.5 439.4L442.4 439.3L443.3 439.2L444.2 439.1L445.1 439.1L446.4 439.1L447.6 439.2L448.9 439.4L450.1 439.5L451.4 439.7L452.7 439.8L453.9 439.9L455.2 440.0L455.9 440.0L456.6 440.0L457.4 440.0L458.1 439.9L458.8 439.8L459.6 439.7L460.3 439.6L461.0 439.5L462.1 439.3L463.1 439.0L464.2 438.7L465.3 438.3L466.4 438.0L467.5 437.7L468.5 437.5L469.6 437.3L470.7 437.2L471.8 437.2L472.9 437.3L474.0 437.4L475.0 437.5L476.1 437.6L477.2 437.6L478.3 437.6L479.0 437.5L479.8 437.3L480.5 437.1L481.2 436.9L481.9 436.7L482.7 436.5L483.4 436.4L484.1 436.4L484.6 436.5L485.1 436.8L485.6 437.2L486.1 437.6L486.5 437.9L487.0 438.3L487.5 438.5L488.0 438.6L488.9 438.4L489.8 437.8L490.7 437.0L491.6 436.1L492.6 435.1L493.5 434.3L494.4 433.7L495.3 433.5L496.4 433.9L497.6 435.0L498.7 436.4L499.9 438.1L501.0 439.9L502.1 441.3L503.3 442.4L504.4 442.8L505.9 442.2L507.4 440.6L509.0 438.2L510.5 435.6L512.0 433.0L513.5 430.6L515.1 429.0L516.6 428.4L518.0 429.0L519.5 430.5L520.9 432.6L522.3 435.0L523.7 437.5L525.1 439.6L526.6 441.1L528.0 441.7L529.8 440.9L531.5 438.7L533.2 435.7L535.0 432.2L536.8 428.7L538.5 425.7L540.2 423.5L542.0 422.7L542.6 422.8L543.5 423.2L544.8 424.5L546.0 426.4L547.2 429.2L548.5 432.9L549.7 437.8L550.9 444.0L551.9 449.8L552.8 457.0L553.5 464.4L554.3 473.7L554.9 483.1L555.4 492.0L555.9 503.3L556.2 512.9L557.4 522.5L558.6 512.2L559.0 499.8L559.4 490.2L559.9 478.9L560.5 470.0L561.3 460.6L562.3 451.3L563.2 443.9L564.4 436.7L565.6 430.9L567.1 424.7L568.7 419.8L570.3 416.1L571.8 413.3L573.4 411.4L574.9 410.1L576.1 409.7L576.9 409.6L577.4 409.6L578.1 409.9L579.1 410.6L580.1 411.7L581.1 413.2L582.1 415.3L583.1 418.0L584.1 421.5L584.9 424.8L585.6 428.8L586.3 433.0L586.9 438.2L587.4 443.4L587.8 448.4L588.1 454.7L588.4 460.1L588.6 467.1L588.8 474.1L589.0 483.9L589.4 484.5L590.3 481.6L590.5 476.4L590.8 471.2L591.0 467.0L591.3 463.0L591.7 459.7L592.1 456.2L592.5 453.5L593.0 451.4L593.4 449.9L593.8 448.8L594.3 448.1L594.6 447.8L594.8 447.8L595.1 447.8L595.5 448.1L596.0 448.8L596.6 449.9L597.1 451.4L597.7 453.5L598.2 456.2L598.8 459.7L599.2 463.0L599.6 467.0L601.7 471.3L602.5 465.3L602.8 458.3L603.1 452.9L603.5 446.6L603.9 441.6L604.4 436.4L605.1 431.2L605.8 427.0L606.6 423.0L607.5 419.7L608.5 416.2L609.6 413.5L610.7 411.4L611.8 409.9L612.9 408.8L614.0 408.1L614.9 407.8L615.4 407.8L616.0 407.8L617.0 408.1L618.2 408.8L619.5 409.9L620.8 411.4L622.0 413.5L623.3 416.2L624.6 419.7L625.5 423.0L626.5 427.0L627.2 431.2L628.0 436.4L631.2 440.8L634.4 436.8L635.2 431.6L636.0 427.4L637.0 423.4L637.9 420.1L639.2 416.6L640.5 413.9L641.8 411.8L643.0 410.3L644.3 409.2L645.6 408.5L646.6 408.2L647.2 408.2L647.6 408.2L648.1 408.5L648.8 409.2L649.6 410.3L650.3 411.8L651.0 413.9L651.8 416.6L652.5 420.1L653.0 423.4L653.6 427.4L654.0 431.6L654.5 436.8L654.8 442.0L655.1 447.0L656.3 451.6L657.8 447.0L658.0 442.8L658.4 438.8L658.7 435.5L659.2 432.0L659.7 429.3L660.1 427.2L660.6 425.7L661.1 424.6L661.5 423.9L661.9 423.6L662.1 423.6L662.3 423.6L662.6 423.9L663.0 424.6L663.4 425.7L663.8 427.2L664.2 429.3L664.6 432.0L665.0 435.5L665.3 438.8L665.6 442.8L665.9 447.0L666.1 452.2L667.1 455.6L667.7 449.5L667.9 442.5L668.1 435.5L668.4 430.1L668.8 423.8L669.2 418.8L669.7 413.6L670.4 408.4L671.0 404.2L671.8 400.2L672.6 396.9L673.7 393.4L674.7 390.7L675.7 388.6L676.8 387.1L677.8 386.0L678.9 385.3L679.7 385.0L680.2 385.0L680.5 385.0L681.1 385.3L681.8 386.0L682.5 387.1L683.2 388.6L683.9 390.7L684.5 393.4L685.2 396.9L685.8 400.2L686.3 404.2L686.7 408.4L687.2 413.6L687.5 418.8L687.8 423.8L688.0 430.1L688.2 435.5L688.4 442.5L688.5 449.5L688.6 459.3L688.9 460.7L689.2 454.8L689.3 447.8L689.4 442.4L689.5 436.1L689.7 431.1L689.9 425.9L690.1 420.7L690.4 416.5L690.7 412.5L691.0 409.2L691.4 405.7L691.8 403.0L692.2 400.9L692.6 399.4L693.0 398.3L693.4 397.6L693.7 397.3L693.9 397.3L694.1 397.3L694.4 397.6L694.8 398.3L695.2 399.4L695.6 400.9L696.0 403.0L696.4 405.7L696.8 409.2L697.1 412.5L697.4 416.5L697.6 420.7L697.9 425.9L698.1 431.1L698.2 436.1L698.4 442.4L698.5 447.8L698.9 452.0L699.1 450.2L699.2 440.3L699.3 430.5L699.4 423.5L699.6 416.5L699.8 411.1L700.0 404.8L700.3 399.8L700.6 394.6L701.1 389.4L701.5 385.2L702.0 381.2L702.6 377.9L703.2 374.4L703.9 371.7L704.6 369.6L705.3 368.1L706.0 367.0L706.7 366.3L707.3 366.0L707.6 366.0L707.8 366.0L708.2 366.3L708.7 367.0L709.1 368.1L709.6 369.6L710.1 371.7L710.5 374.4L711.0 377.9L711.4 381.2L711.7 385.2L712.0 389.4L712.3 394.6L712.6 399.8L712.7 404.8L712.9 411.1L713.0 416.5L713.1 423.5L713.2 430.5L713.5 437.5L713.7 435.1L713.8 425.3L713.8 418.3L713.9 411.3L714.1 405.9L714.2 399.6L714.4 394.6L714.6 389.4L714.9 384.2L715.2 380.0L715.5 376.0L715.9 372.7L716.3 369.2L716.7 366.5L717.2 364.4L717.6 362.9L718.1 361.8L718.5 361.1L718.9 360.8L719.1 360.8L719.3 360.8L719.5 361.1L719.8 361.8L720.1 362.9L720.4 364.4L720.7 366.5L721.0 369.2L721.4 372.7L721.6 376.0L721.8 380.0L722.0 384.2L722.2 389.4L722.4 394.6L722.5 399.6L722.6 405.9L722.7 411.3L722.8 418.3L722.8 425.3L722.9 435.1L722.9 445.0L723.0 457.4L723.0 467.1L723.0 446.3L723.1 429.5L723.1 417.1L723.2 407.2L723.3 397.4L723.4 390.4L723.5 383.4L723.6 378.0L723.8 371.7L723.9 366.7L724.2 361.5L724.5 356.3L724.8 352.1L725.1 348.1L725.5 344.8L726.0 341.3L726.4 338.6L726.9 336.5L727.4 335.0L727.8 333.9L728.3 333.2L728.7 332.9L728.9 332.9L729.0 332.9L729.2 333.2L729.5 333.9L729.7 335.0L730.0 336.5L730.2 338.6L730.5 341.3L730.8 344.8L730.9 348.1L731.1 352.1L731.3 356.3L731.5 361.5L731.6 366.7L731.7 371.7L731.8 378.0L731.8 383.4L731.9 390.4L732.1 393.5L732.3 389.7L732.4 382.7L732.4 375.7L732.5 370.3L732.6 364.0L732.8 359.0L732.9 353.8L733.1 348.6L733.4 344.4L733.6 340.4L733.9 337.1L734.2 333.6L734.5 330.9L734.9 328.8L735.2 327.3L735.5 326.2L735.9 325.5L736.1 325.2L736.3 325.2L736.4 325.2L736.6 325.5L736.8 326.2L737.1 327.3L737.3 328.8L737.5 330.9L737.8 333.6L738.0 337.1L738.2 340.4L738.3 344.4L738.5 348.6L738.6 353.8L738.7 359.0L738.8 364.0L738.9 370.3L739.0 375.7L739.0 382.7L739.2 384.0L739.3 382.1L739.3 372.3L739.3 365.3L739.4 358.3L739.4 352.9L739.5 346.6L739.6 341.6L739.7 336.4L739.8 331.2L739.9 327.0L740.1 323.0L740.2 319.7L740.4 316.2L740.6 313.5L740.8 311.4L741.0 309.9L741.2 308.8L741.4 308.1L741.5 307.8L741.6 307.8L741.7 307.8L741.9 308.1L742.2 308.8L742.4 309.9L742.7 311.4L742.9 313.5L743.2 316.2L743.5 319.7L743.6 323.0L743.8 327.0L744.0 331.2L744.2 336.4L744.3 341.6L744.4 346.6L744.5 352.9L744.5 358.3L744.8 361.0L745.3 359.0L745.4 353.8L745.5 348.6L745.7 344.4L745.9 340.4L746.1 337.1L746.3 333.6L746.5 330.9L746.8 328.8L747.0 327.3L747.3 326.2L747.5 325.5L747.7 325.2L747.8 325.2L747.9 325.2L748.0 325.5L748.1 326.2L748.3 327.3L748.4 328.8L748.6 330.9L748.8 333.6L748.9 337.1L749.0 340.4L749.1 344.4L749.2 348.6L749.3 353.8L749.4 359.0L749.5 364.0L749.5 370.3L749.5 375.7L749.6 382.7L749.6 389.7L749.6 399.5L749.7 409.4L749.7 421.8L749.7 438.6L749.7 439.6" stroke="#fdc434"/>
<path d="M749.2 345.0V334.0H749.6V323.0H749.9V312.0H750.3V301.0H751.1V290.0H752.5V279.0H753.7V268.0H755.2V257.0H757.0V246.0H758.3V235.0H759.4V224.0H760.5V213.0H761.7V202.0H762.8V191.0H763.9V180.0H764.7V169.0H765.3V158.0H766.0V147.0H767.2V136.0H767.8V125.0H767.9V114.0H768.3V103.0H768.6V92.0H768.7V81.0H768.9V70.0H769.1L771.5 70.0V83.0H771.3V96.0H771.1V109.0H771.0V122.0H770.1V135.0H769.9V148.0H769.9V161.0H770.0V174.0H769.6V187.0H769.2V200.0H768.8V213.0H768.5V226.0H766.4V239.0H764.7V252.0H764.0V265.0H762.6V278.0H761.9V291.0H760.7V304.0H759.5V317.0H759.4V330.0H759.3V343.0H756.6V356.0H756.3V369.0H753.6V382.0H751.0V395.0H750.9V408.0H750.9V421.0H750.8V434.0H750.7V439.6H748.7L748.9 360.0Z" fill="#fdc434" stroke="none"/>
</g>
<path d="M93.40 521.3v-4.4M190.57 521.3v-4.4M287.74 521.3v-7.6M384.91 521.3v-4.4M482.08 521.3v-7.6M579.25 521.3v-4.4M676.42 521.3v-7.6M773.59 521.3v-4.4M68.4 76.30h3.6M68.4 132.19h7.2M68.4 188.08h3.6M68.4 243.97h7.2M68.4 299.86h3.6M68.4 355.75h7.2M68.4 411.64h3.6M68.4 467.53h7.2" stroke="#666" stroke-width="1" fill="none"/>
<path d="M68.4 76V521.3M64.6 521.3H787.3" stroke="#505050" stroke-width="1.6" fill="none"/>
<g stroke="#111" stroke-width="0.12">
<text x="137.61" y="22.76" font-size="27.01" textLength="84.83" lengthAdjust="spacingAndGlyphs">NNLO</text>
<text x="232.3" y="22.57" font-size="26.42" textLength="60.95" lengthAdjust="spacingAndGlyphs">VFN</text>
<text x="304.24" y="23.02" font-size="27.54" textLength="23.74" lengthAdjust="spacingAndGlyphs">at</text>
<text x="341.67" y="23.03" font-size="25.07" textLength="16.29" lengthAdjust="spacingAndGlyphs" font-style="italic" stroke-width="0.55">μ</text>
<text x="395.11" y="23.03" font-size="26.82" textLength="65.05" lengthAdjust="spacingAndGlyphs">4.545</text>
<text x="470.67" y="23.72" font-size="28.5" textLength="63.2" lengthAdjust="spacingAndGlyphs">GeV,</text>
<text x="545.62" y="23.4" font-size="26.09" textLength="16.25" lengthAdjust="spacingAndGlyphs" font-style="italic" stroke-width="0.55">x</text>
<text x="561.15" y="26.83" font-size="16.67" textLength="10.6" lengthAdjust="spacingAndGlyphs">2</text>
<text x="608.95" y="22.87" font-size="26.57" textLength="14.42" lengthAdjust="spacingAndGlyphs">3</text>
<text x="658.13" y="22.78" font-size="26.03" textLength="29.66" lengthAdjust="spacingAndGlyphs">10</text>
<text x="702.45" y="12.45" font-size="17.46" textLength="10.58" lengthAdjust="spacingAndGlyphs">3</text>
<text x="50.59" y="57.73" font-size="28.89" textLength="9.22" lengthAdjust="spacingAndGlyphs">(</text>
<text x="61.6" y="57.1" font-size="25.65" textLength="15.1" lengthAdjust="spacingAndGlyphs" font-style="italic" stroke-width="0.55">x</text>
<text x="76.54" y="60.4" font-size="16.82" textLength="10.41" lengthAdjust="spacingAndGlyphs">1</text>
<text x="88.97" y="57.73" font-size="28.89" textLength="9.23" lengthAdjust="spacingAndGlyphs">)</text>
<text x="10.05" y="143.39" font-size="25.59" textLength="30.68" lengthAdjust="spacingAndGlyphs">10</text>
<text x="52.79" y="134.1" font-size="18.46" textLength="10.43" lengthAdjust="spacingAndGlyphs">4</text>
<text x="10.05" y="255.29" font-size="25.59" textLength="30.68" lengthAdjust="spacingAndGlyphs">10</text>
<text x="52.33" y="245.64" font-size="17.91" textLength="11.14" lengthAdjust="spacingAndGlyphs">6</text>
<text x="10.05" y="366.99" font-size="25.59" textLength="30.68" lengthAdjust="spacingAndGlyphs">10</text>
<text x="52.33" y="357.34" font-size="17.91" textLength="11.14" lengthAdjust="spacingAndGlyphs">8</text>
<text x="-0.55" y="478.29" font-size="25.59" textLength="30.68" lengthAdjust="spacingAndGlyphs">10</text>
<text x="41.65" y="468.65" font-size="17.65" textLength="21.93" lengthAdjust="spacingAndGlyphs">10</text>
<text x="260.75" y="555.18" font-size="26.03" textLength="30.68" lengthAdjust="spacingAndGlyphs">10</text>
<text x="302.83" y="545.12" font-size="18.33" textLength="10.83" lengthAdjust="spacingAndGlyphs">5</text>
<text x="447.49" y="555.18" font-size="26.03" textLength="68.23" lengthAdjust="spacingAndGlyphs">0.001</text>
<text x="641.97" y="555.18" font-size="26.03" textLength="68.95" lengthAdjust="spacingAndGlyphs">0.100</text>
<text x="801.21" y="527.5" font-size="27.17" textLength="15.52" lengthAdjust="spacingAndGlyphs" font-style="italic" stroke-width="0.55">x</text>
<text x="817.34" y="531.2" font-size="18.33" textLength="9.73" lengthAdjust="spacingAndGlyphs">1</text>
<text x="210.85" y="103.7" font-size="21.52" textLength="12.29" lengthAdjust="spacingAndGlyphs" font-style="italic" stroke-width="0.55">x</text>
<text x="222.13" y="106.6" font-size="14.7" textLength="9.19" lengthAdjust="spacingAndGlyphs">1</text>
<text x="233.15" y="103.7" font-size="21.52" textLength="12.6" lengthAdjust="spacingAndGlyphs" font-style="italic" stroke-width="0.55">x</text>
<text x="245.35" y="106.16" font-size="14.24" textLength="8.1" lengthAdjust="spacingAndGlyphs">2</text>
<text x="255.3" y="103.7" font-size="20.92" textLength="15.6" lengthAdjust="spacingAndGlyphs" font-style="italic" stroke-width="0.55">F</text>
<text x="268.03" y="106.24" font-size="14.56" textLength="16.26" lengthAdjust="spacingAndGlyphs" font-style="italic" stroke-width="0.2">gg</text>
<text x="210.85" y="143.55" font-size="21.52" textLength="12.29" lengthAdjust="spacingAndGlyphs" font-style="italic" stroke-width="0.55">x</text>
<text x="222.13" y="146.45" font-size="14.7" textLength="9.19" lengthAdjust="spacingAndGlyphs">1</text>
<text x="233.15" y="143.55" font-size="21.52" textLength="12.6" lengthAdjust="spacingAndGlyphs" font-style="italic" stroke-width="0.55">x</text>
<text x="245.35" y="146.01" font-size="14.24" textLength="8.1" lengthAdjust="spacingAndGlyphs">2</text>
<text x="255.3" y="143.55" font-size="20.92" textLength="15.6" lengthAdjust="spacingAndGlyphs" font-style="italic" stroke-width="0.55">F</text>
<text x="267.48" y="146.0" font-size="15.21" textLength="20.0" lengthAdjust="spacingAndGlyphs" font-style="italic" stroke-width="0.2">uu</text>
<text x="210.85" y="183.3" font-size="21.52" textLength="12.29" lengthAdjust="spacingAndGlyphs" font-style="italic" stroke-width="0.55">x</text>
<text x="222.13" y="186.2" font-size="14.7" textLength="9.19" lengthAdjust="spacingAndGlyphs">1</text>
<text x="233.15" y="183.3" font-size="21.52" textLength="12.6" lengthAdjust="spacingAndGlyphs" font-style="italic" stroke-width="0.55">x</text>
<text x="245.35" y="185.76" font-size="14.24" textLength="8.1" lengthAdjust="spacingAndGlyphs">2</text>
<text x="255.3" y="183.3" font-size="20.92" textLength="15.6" lengthAdjust="spacingAndGlyphs" font-style="italic" stroke-width="0.55">F</text>
<text x="267.64" y="185.84" font-size="14.56" textLength="17.5" lengthAdjust="spacingAndGlyphs" font-style="italic" stroke-width="0.2">ug</text>
<text x="210.85" y="223.2" font-size="21.52" textLength="12.29" lengthAdjust="spacingAndGlyphs" font-style="italic" stroke-width="0.55">x</text>
<text x="222.13" y="226.1" font-size="14.7" textLength="9.19" lengthAdjust="spacingAndGlyphs">1</text>
<text x="233.15" y="223.2" font-size="21.52" textLength="12.6" lengthAdjust="spacingAndGlyphs" font-style="italic" stroke-width="0.55">x</text>
<text x="245.35" y="225.66" font-size="14.24" textLength="8.1" lengthAdjust="spacingAndGlyphs">2</text>
<text x="255.3" y="223.2" font-size="20.92" textLength="15.6" lengthAdjust="spacingAndGlyphs" font-style="italic" stroke-width="0.55">F</text>
<text x="268.3" y="225.74" font-size="14.56" textLength="15.51" lengthAdjust="spacingAndGlyphs" font-style="italic" stroke-width="0.2">sg</text>
</g>
<path d="M366.5 14.5H386.0M366.5 19.9H386.0M580.6 14.5H600.8M580.6 19.9H600.8" stroke="#111" stroke-width="1.8" fill="none"/>
<path d="M689 8.15H701.4M41.4 129.35H52.0M41.4 241.25H52.0M41.4 352.95H52.0M30.8 464.25H41.4M292.1 540.2H302.2" stroke="#111" stroke-width="1.5" fill="none"/>
<path d="M633.6 9.7L647.9 23.2M647.9 9.7L633.6 23.2" stroke="#111" stroke-width="1.8" fill="none"/>
<path d="M48 46C46.5 45.5 45.3 45.4 44.2 45.5C40.3 45.9 37.9 48.6 37.9 51.7C37.9 55.1 40.3 57.6 43.9 57.6C45.6 57.6 47 57 48.1 55.9L47.9 54.6C46.9 55.7 45.8 56.3 44.6 56.3C42.6 56.3 41.4 54.6 41.4 51.8L46.9 51.8L46.9 50.6L41.5 50.6C41.8 48.2 43 46.8 44.8 46.7C45.9 46.65 47 46.9 48 47.2Z" fill="#111" stroke="#111" stroke-width="0.3"/>
<path d="M279.6 137.35H286.1" stroke="#111" stroke-width="0.9"/>
<path d="M170.8 97.9H207" stroke="#17a817" stroke-width="1.7" fill="none"/>
<path d="M170.8 137.75H207" stroke="#fa3c0a" stroke-width="1.7" fill="none"/>
<path d="M170.8 177.5H207" stroke="#0a14f5" stroke-width="1.7" fill="none"/>
<path d="M170.8 217.4H207" stroke="#fdc22e" stroke-width="1.7" fill="none"/>
</svg></body></html>
